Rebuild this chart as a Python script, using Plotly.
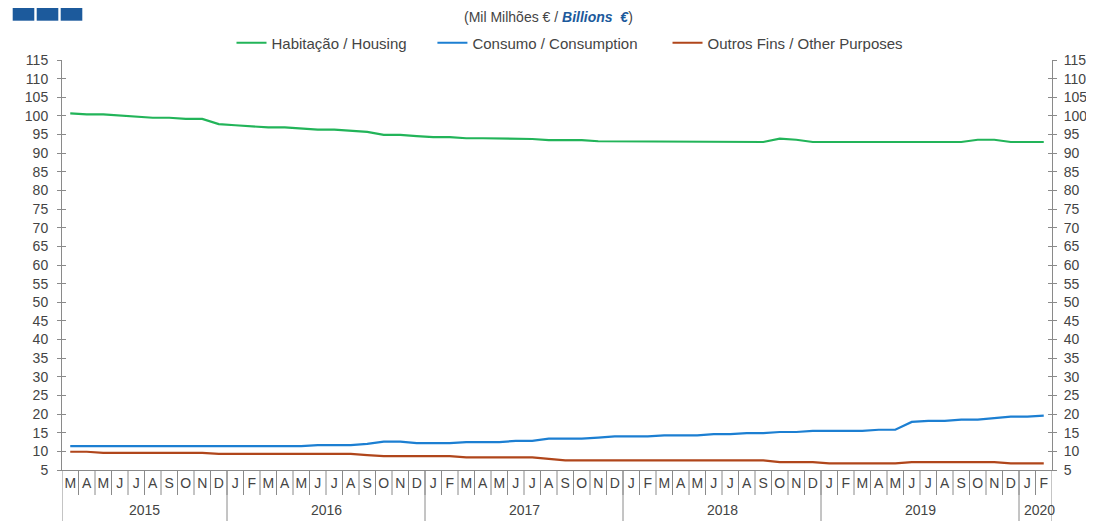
import plotly.graph_objects as go

month_labels = (["M", "A", "M", "J", "J", "A", "S", "O", "N", "D"]
                + ["J", "F", "M", "A", "M", "J", "J", "A", "S", "O", "N", "D"] * 4
                + ["J", "F"])
year_labels = ["2015", "2016", "2017", "2018", "2019", "2020"]
year_counts = [10, 12, 12, 12, 12, 2]

housing = [100.7, 100.4, 100.4, 100.1, 99.8, 99.5, 99.5, 99.2, 99.2, 97.8,
           97.5, 97.2, 96.9, 96.9, 96.6, 96.3, 96.3, 96.0, 95.7, 94.9, 94.9, 94.6,
           94.3, 94.3, 94.0, 94.0, 94.0, 93.8, 93.8, 93.5, 93.5, 93.5, 93.2, 93.2,
           93.0, 93.0, 93.0, 93.0, 93.0, 93.0, 93.0, 93.0, 93.0, 93.9, 93.6, 93.0,
           93.0, 93.0, 93.0, 93.0, 93.0, 93.0, 93.0, 93.0, 93.0, 93.6, 93.6, 93.0,
           93.0, 93.0]
consumption = [11.4, 11.4, 11.4, 11.4, 11.4, 11.4, 11.4, 11.4, 11.4, 11.4,
               11.4, 11.4, 11.4, 11.4, 11.4, 11.7, 11.7, 11.7, 12.0, 12.6, 12.6, 12.2,
               12.2, 12.2, 12.5, 12.5, 12.5, 12.8, 12.8, 13.4, 13.4, 13.4, 13.7, 14.0,
               14.0, 14.0, 14.3, 14.3, 14.3, 14.6, 14.6, 14.9, 14.9, 15.2, 15.2, 15.5,
               15.5, 15.5, 15.5, 15.8, 15.8, 17.9, 18.2, 18.2, 18.5, 18.5, 18.8, 19.3,
               19.3, 19.6]
other = [9.9, 9.9, 9.6, 9.6, 9.6, 9.6, 9.6, 9.6, 9.6, 9.3,
         9.3, 9.3, 9.3, 9.3, 9.3, 9.3, 9.3, 9.3, 9.0, 8.7, 8.7, 8.7,
         8.7, 8.7, 8.4, 8.4, 8.4, 8.4, 8.4, 8.0, 7.6, 7.6, 7.6, 7.6,
         7.6, 7.6, 7.6, 7.6, 7.6, 7.6, 7.6, 7.6, 7.6, 7.1, 7.1, 7.1,
         6.8, 6.8, 6.8, 6.8, 6.8, 7.1, 7.1, 7.1, 7.1, 7.1, 7.1, 6.8,
         6.8, 6.8]

series_names = ["Habitação / Housing", "Consumo / Consumption", "Outros Fins / Other Purposes"]
series_colors = ["#22b459", "#1c7fd2", "#b0461b"]
legend_pad = [5, 6, 0]  # trailing non-breaking spaces to widen the legend spacing

# page has an 8px body margin; figure sized so the plot lands where the reference has it
OFF = 8
W, H = 1094 - OFF, 521 - OFF
ml, mr, mt, mb = 62 - OFF, 42, 60 - OFF, 51
pw, ph = W - ml - mr, H - mt - mb


def px_y(yp):
    """page pixel row -> paper y"""
    return (H - mb - (yp - OFF)) / ph


def px_x(xp):
    return (xp - OFF - ml) / pw


x = list(range(len(month_labels)))
fig = go.Figure()
for name, vals, col, pad in zip(series_names, [housing, consumption, other], series_colors, legend_pad):
    fig.add_trace(go.Scatter(x=x, y=vals, name=name + "\u00a0" * pad, mode="lines",
                             line=dict(color=col, width=2.2)))

axis_col = "#8a8a8a"
font_fam = "Liberation Sans, Arial, sans-serif"
tick_font = dict(family=font_fam, size=14, color="#444444")
yticks = list(range(5, 116, 5))

shapes = []
# month separators
for i in range(1, len(month_labels)):
    shapes.append(dict(type="line", xref="x", yref="paper", x0=i - 0.5, x1=i - 0.5,
                       y0=0, y1=-25 / ph, line=dict(color=axis_col, width=1)))
# year separators
pos = -0.5
bounds = [pos]
for c in year_counts:
    pos += c
    bounds.append(pos)
for b in bounds:
    shapes.append(dict(type="line", xref="x", yref="paper", x0=b, x1=b,
                       y0=0, y1=-mb / ph, line=dict(color=axis_col, width=1)))
# decorative squares top-left
for k in range(3):
    x0 = 12.7 + k * 24
    shapes.append(dict(type="rect", xref="paper", yref="paper",
                       x0=px_x(x0), x1=px_x(x0 + 21.6),
                       y0=px_y(20.7), y1=px_y(7.3),
                       fillcolor="#1c5a9c", line=dict(width=0)))

annotations = []
for b0, b1, lab in zip(bounds[:-1], bounds[1:], year_labels):
    annotations.append(dict(x=(b0 + b1) / 2 + (0.25 if lab == "2020" else 0), y=px_y(510),
                            xref="x", yref="paper", text=lab, showarrow=False,
                            font=tick_font, yanchor="middle"))
annotations.append(dict(x=px_x(548), y=px_y(17), xref="paper", yref="paper",
                        text="(Mil Milhões € / <b><i><span style='color:#1c5a9c'>Billions  €</span></i></b>)",
                        showarrow=False, yanchor="middle",
                        font=dict(family=font_fam, size=14, color="#444444")))

fig.update_layout(
    width=W, height=H,
    margin=dict(l=ml, r=mr, t=mt, b=mb, pad=0, autoexpand=False),
    plot_bgcolor="white", paper_bgcolor="white",
    showlegend=True,
    legend=dict(orientation="h", x=px_x(570), xanchor="center", y=px_y(43), yanchor="middle",
                font=dict(family=font_fam, size=15, color="#444444"),
                itemwidth=30, tracegroupgap=0, bgcolor="rgba(0,0,0,0)"),
    xaxis=dict(range=[-0.5, len(month_labels) - 0.5], tickmode="array", tickvals=x,
               ticktext=month_labels, ticks="", showgrid=False, zeroline=False, automargin=False,
               showline=True, linecolor=axis_col, linewidth=1, tickfont=tick_font, fixedrange=True),
    yaxis=dict(range=[5, 115], tickmode="array", tickvals=yticks, ticks="outside", ticklen=4,
               tickcolor=axis_col, mirror="ticks", showline=True, linecolor=axis_col, linewidth=1,
               showgrid=False, zeroline=False, tickfont=tick_font, ticklabelstandoff=6,
               automargin=False),
    yaxis2=dict(range=[5, 115], tickmode="array", tickvals=yticks, ticks="inside", ticklen=4,
                tickcolor=axis_col, mirror="ticks", showline=True, linecolor=axis_col, linewidth=1,
                overlaying="y", side="right", anchor="x", showgrid=False, zeroline=False,
                tickfont=tick_font, ticklabelstandoff=8, automargin=False),
    shapes=shapes,
    annotations=annotations,
)
fig.add_trace(go.Scatter(x=[0], y=[5], yaxis="y2", mode="markers", marker=dict(opacity=0),
                         showlegend=False, hoverinfo="skip"))

fig.write_html("out.html")
